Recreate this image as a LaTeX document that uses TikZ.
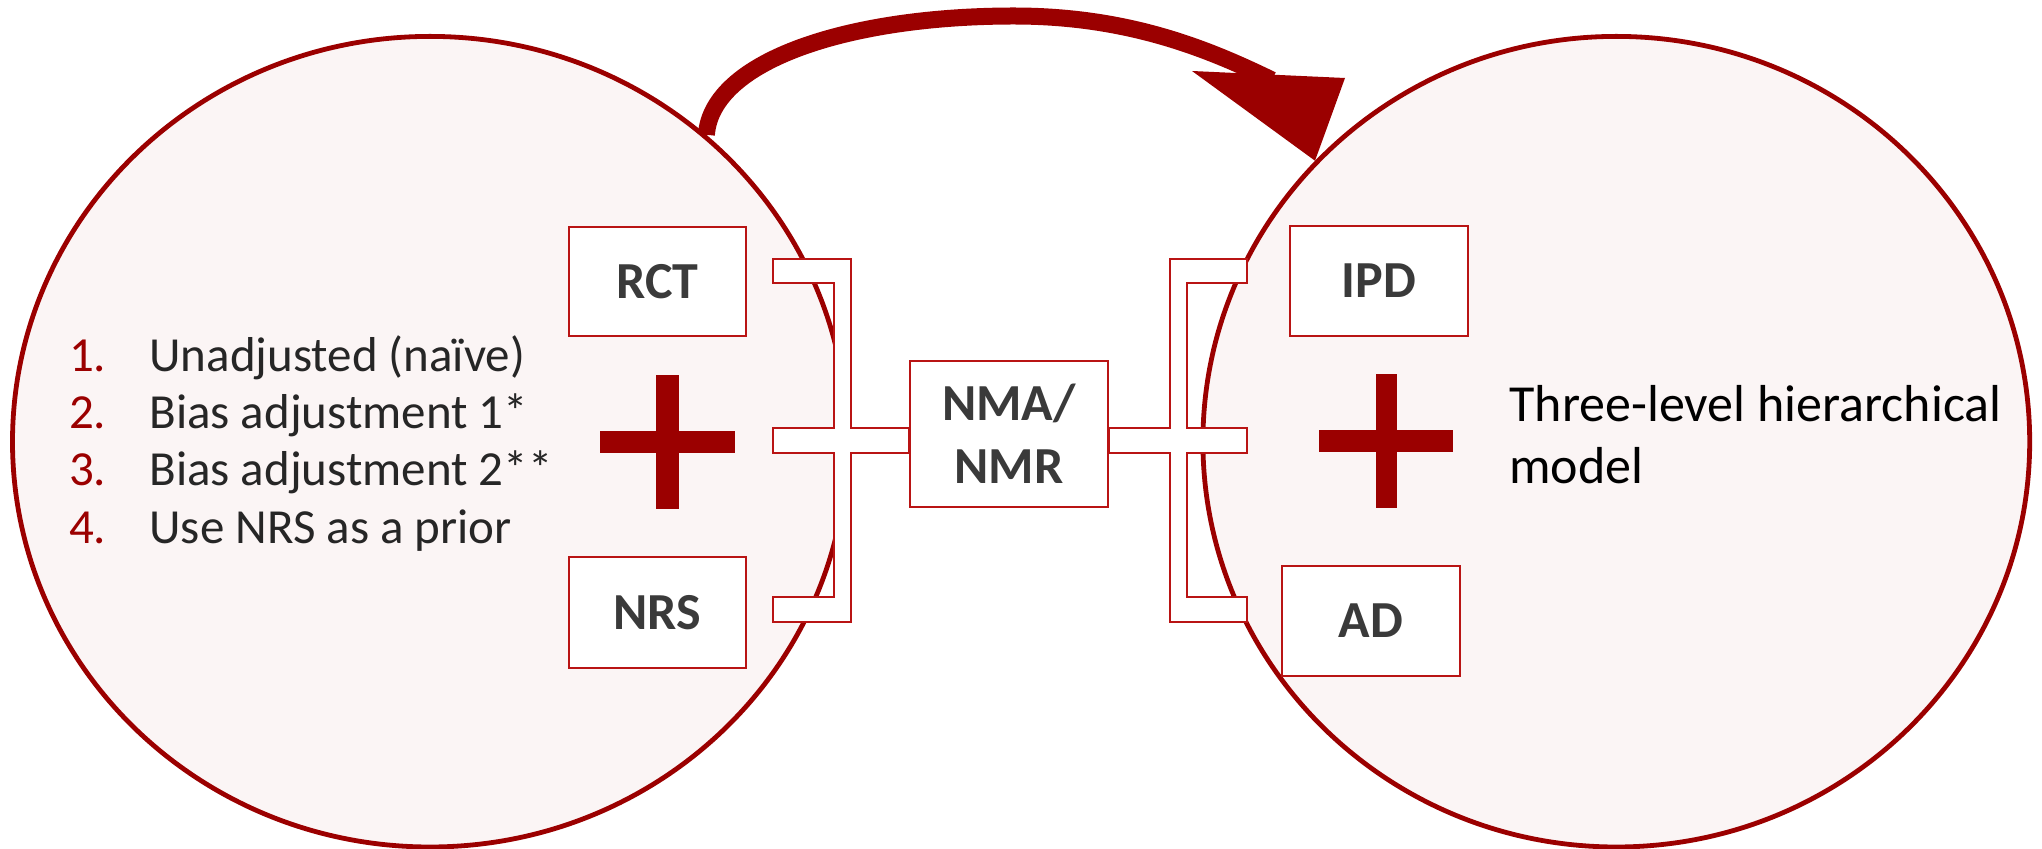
\documentclass[tikz,border=0pt]{standalone}
\usepackage{fontspec}
\setmainfont{Carlito}
\usetikzlibrary{shapes.geometric}

\definecolor{deepred}{RGB}{155,0,0}
\definecolor{boxred}{RGB}{185,20,20}
\definecolor{blush}{RGB}{251,245,245}
\definecolor{inkgray}{RGB}{38,38,38}
\definecolor{labelgray}{RGB}{58,58,58}

\begin{document}
\begin{tikzpicture}[x=0.5pt,y=-0.5pt,
  halo/.style={ellipse, draw=deepred, line width=2.4pt, fill=blush, inner sep=0pt},
  srcbox/.style={draw=boxred, line width=1pt, fill=white, inner sep=0pt,
    font=\fontsize{26}{31.5}\selectfont\bfseries, text=labelgray},
  bracket/.style={draw=boxred, line width=1pt, fill=white},
  plusbar/.style={fill=deepred},
  itemnum/.style={anchor=base west, inner sep=0pt, text=deepred,
    font=\fontsize{24.5}{29}\selectfont},
  itemtext/.style={anchor=base west, inner sep=0pt, text=inkgray,
    font=\fontsize{24.5}{29}\selectfont},
  bigcurve/.style={draw=deepred, line width=8.5pt}
]
\useasboundingbox (0,0) rectangle (2042,849);

% the two model groups
\node[halo, minimum width=417.5pt, minimum height=405.3pt] (L) at (430,441.7) {};
\node[halo, minimum width=413.4pt, minimum height=405.3pt] (R) at (1616.3,441.7) {};

% central analysis box
\node[srcbox, minimum width=99pt, minimum height=73pt, align=center] (nma) at (1009,434) {NMA/\\NMR};

% bracket joining RCT and NRS to the central box
\draw[bracket] (773,259) -- (851,259) -- (851,428) -- (nma.west |- 0,428)
  -- (nma.west |- 0,453) -- (851,453) -- (851,622) -- (773,622) -- (773,597)
  -- (834,597) -- (834,453) -- (773,453) -- (773,428) -- (834,428)
  -- (834,283) -- (773,283) -- cycle;

% bracket joining IPD and AD to the central box
\draw[bracket] (1247,259) -- (1170,259) -- (1170,428) -- (nma.east |- 0,428)
  -- (nma.east |- 0,453) -- (1170,453) -- (1170,622) -- (1247,622) -- (1247,597)
  -- (1187,597) -- (1187,453) -- (1247,453) -- (1247,428) -- (1187,428)
  -- (1187,283) -- (1247,283) -- cycle;

% data source boxes
\node[srcbox, minimum width=88.5pt, minimum height=54.5pt] (rct) at (657.5,281.5) {RCT};
\node[srcbox, minimum width=88.5pt, minimum height=55.5pt] (nrs) at (657.5,612.5) {NRS};
\node[srcbox, minimum width=89pt, minimum height=55pt] (ipd) at (1379,281) {IPD};
\node[srcbox, minimum width=89pt, minimum height=55pt] (ad) at (1371,621) {AD};

% plus signs
\fill[plusbar] (656,375) rectangle (679,509);
\fill[plusbar] (600,431) rectangle (735,453);
\fill[plusbar] (1376,374) rectangle (1397,508);
\fill[plusbar] (1319,430) rectangle (1453,452);

% list of adjustment approaches
\node[itemnum] (n1) at (68.6,371.5) {1.};
\node[itemtext] (i1) at (149,371.5) {Unadjusted (naïve)};
\node[itemnum] (n2) at (68.6,428.5) {2.};
\node[itemtext] (i2) at (149,428.5) {Bias adjustment 1*};
\node[itemnum] (n3) at (68.6,485.8) {3.};
\node[itemtext] (i3) at (149,485.8) {Bias adjustment 2**};
\node[itemnum] (n4) at (68.6,543.2) {4.};
\node[itemtext] (i4) at (149,543.2) {Use NRS as a prior};

% model description (base anchor sits on the last line)
\node[anchor=base west, inner sep=0pt, align=left,
  font=\fontsize{26}{31}\selectfont] (hm) at (1509,483.5)
  {Three-level hierarchical\\model};

% curved arrow from the left group to the right group
\draw[bigcurve] (L.48) .. controls (712,60) and (850,16) .. (1014,16)
  .. controls (1130,16) and (1210,50) .. (1272,80);
\fill[deepred] (1192,71) -- (1345,78) -- (R.137) -- cycle;
\end{tikzpicture}
\end{document}
